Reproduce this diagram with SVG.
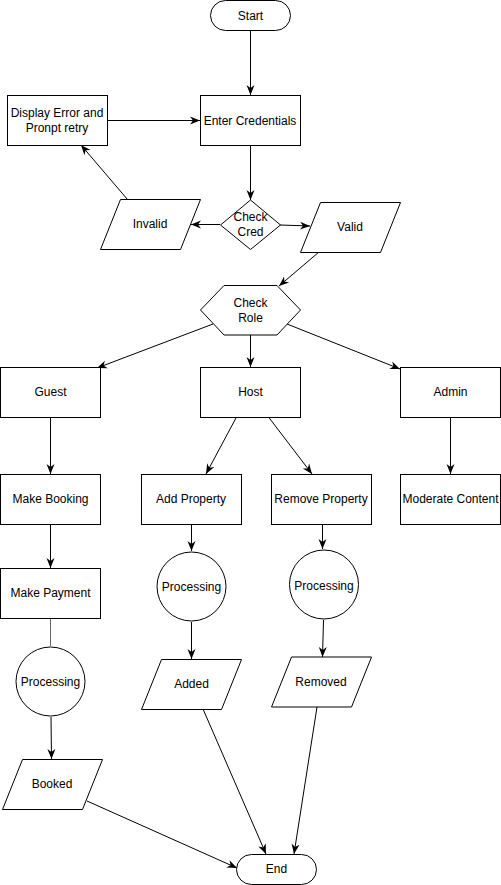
<svg xmlns="http://www.w3.org/2000/svg" width="501" height="885" viewBox="0 0 501 885">
<style>
.s{fill:#fff;stroke:#000;stroke-width:1}
.t{font-family:"Liberation Sans",Arial,sans-serif;font-size:12px;fill:#000;text-anchor:middle}
.c{fill:none;stroke:#000;stroke-width:1}
</style>
<defs>
<marker id="a" viewBox="0 0 10 10" refX="10" refY="5" markerWidth="10" markerHeight="10" markerUnits="userSpaceOnUse" orient="auto">
<path d="M0,1 L10,5 L0,9 L3,5 Z" fill="#000"/>
</marker>
</defs>
<rect width="501" height="885" fill="#fff"/>
<g id="connectors">
<line class="c" x1="250.5" y1="30" x2="250.5" y2="95" marker-end="url(#a)"/>
<line class="c" x1="107" y1="120.5" x2="200" y2="120.5" marker-end="url(#a)"/>
<line class="c" x1="250.5" y1="145" x2="250.5" y2="200" marker-end="url(#a)"/>
<line class="c" x1="220" y1="224.5" x2="191" y2="224.5" marker-end="url(#a)"/>
<line class="c" x1="127.5" y1="199.5" x2="81" y2="145" marker-end="url(#a)"/>
<line class="c" x1="280" y1="225" x2="310" y2="226" marker-end="url(#a)"/>
<line class="c" x1="319" y1="252" x2="279" y2="286" marker-end="url(#a)"/>
<line class="c" x1="213" y1="324" x2="97" y2="368" marker-end="url(#a)"/>
<line class="c" x1="250.5" y1="335" x2="250.5" y2="367" marker-end="url(#a)"/>
<line class="c" x1="287" y1="324" x2="400" y2="369" marker-end="url(#a)"/>
<line class="c" x1="50.5" y1="417" x2="50.5" y2="474" marker-end="url(#a)"/>
<line class="c" x1="236.5" y1="417" x2="206" y2="474" marker-end="url(#a)"/>
<line class="c" x1="268.5" y1="417" x2="312" y2="474" marker-end="url(#a)"/>
<line class="c" x1="450.5" y1="417" x2="450.5" y2="474" marker-end="url(#a)"/>
<line class="c" x1="50.5" y1="524" x2="50.5" y2="568" marker-end="url(#a)"/>
<line class="c" x1="191.5" y1="524" x2="191.5" y2="551" marker-end="url(#a)"/>
<line class="c" x1="322.5" y1="524" x2="322.5" y2="549" marker-end="url(#a)"/>
<line x1="50.5" y1="618" x2="50.5" y2="646" stroke="#666" stroke-width="1"/>
<line class="c" x1="51" y1="717" x2="51.5" y2="759" stroke-width="1.5" marker-end="url(#a)"/>
<line class="c" x1="191.5" y1="622" x2="191.5" y2="659" marker-end="url(#a)"/>
<line class="c" x1="323.5" y1="620" x2="322.5" y2="657" marker-end="url(#a)"/>
<line class="c" x1="87" y1="801" x2="237" y2="868" marker-end="url(#a)"/>
<line class="c" x1="203" y1="709" x2="266" y2="854" marker-end="url(#a)"/>
<line class="c" x1="317" y1="707" x2="294" y2="854" marker-end="url(#a)"/>
</g>
<g id="start"><rect class="s" x="210.5" y="0.5" width="80" height="30" rx="15"/><text class="t" x="250.5" y="19.5">Start</text></g>
<g id="enter"><rect class="s" x="200.5" y="95.5" width="100" height="50"/><text class="t" x="250" y="124.5">Enter Credentials</text></g>
<g id="display"><rect class="s" x="7.5" y="95.5" width="100" height="50"/><text class="t" x="57" y="117">Display Error and</text><text class="t" x="57" y="131.5">Pronpt retry</text></g>
<g id="checkcred"><polygon class="s" points="250.5,200 280.5,225 250.5,249.5 220.5,225"/><text class="t" x="250.5" y="221">Check</text><text class="t" x="250.5" y="235.5">Cred</text></g>
<g id="invalid"><polygon class="s" points="120.5,199.5 200.5,199.5 180.5,249.5 100.5,249.5"/><text class="t" x="150" y="228">Invalid</text></g>
<g id="valid"><polygon class="s" points="320.5,202.5 400.5,202.5 380.5,252.5 300.5,252.5"/><text class="t" x="350" y="231">Valid</text></g>
<g id="checkrole"><polygon class="s" points="200.5,310 224,285.5 277,285.5 300.5,310 277,335 224,335"/><text class="t" x="250.5" y="307">Check</text><text class="t" x="250.5" y="321.5">Role</text></g>
<g id="guest"><rect class="s" x="0.5" y="367.5" width="100" height="50"/><text class="t" x="50.5" y="396">Guest</text></g>
<g id="host"><rect class="s" x="200.5" y="367.5" width="100" height="50"/><text class="t" x="250.5" y="396">Host</text></g>
<g id="admin"><rect class="s" x="400.5" y="367.5" width="100" height="50"/><text class="t" x="450.5" y="396">Admin</text></g>
<g id="booking"><rect class="s" x="0.5" y="474.5" width="100" height="50"/><text class="t" x="50.5" y="503">Make Booking</text></g>
<g id="addprop"><rect class="s" x="141.5" y="474.5" width="100" height="50"/><text class="t" x="191" y="503">Add Property</text></g>
<g id="removeprop"><rect class="s" x="271.5" y="474.5" width="100" height="50"/><text class="t" x="321" y="503">Remove Property</text></g>
<g id="moderate"><rect class="s" x="400.5" y="474.5" width="100" height="50"/><text class="t" x="450.5" y="503">Moderate Content</text></g>
<g id="payment"><rect class="s" x="0.5" y="568.5" width="100" height="50"/><text class="t" x="50.5" y="597">Make Payment</text></g>
<g id="proc-add"><circle class="s" cx="191.5" cy="586.5" r="34.5"/><text class="t" x="191.5" y="591">Processing</text></g>
<g id="proc-remove"><circle class="s" cx="324" cy="584.5" r="34.5"/><text class="t" x="324" y="589.5">Processing</text></g>
<g id="proc-guest"><circle class="s" cx="50.5" cy="681.5" r="34.5"/><text class="t" x="50.5" y="686">Processing</text></g>
<g id="booked"><polygon class="s" points="22.5,759.5 102.5,759.5 82.5,809.5 2.5,809.5"/><text class="t" x="52" y="788">Booked</text></g>
<g id="added"><polygon class="s" points="161.5,659.5 241.5,659.5 221.5,709.5 141.5,709.5"/><text class="t" x="191.5" y="688">Added</text></g>
<g id="removed"><polygon class="s" points="291.5,657 371.5,657 351.5,707 271.5,707" stroke="#555" stroke-width="1.3"/><text class="t" x="321" y="686">Removed</text></g>
<g id="end"><rect class="s" x="236.5" y="854.5" width="80" height="30" rx="15"/><text class="t" x="276.5" y="873">End</text></g>
</svg>
